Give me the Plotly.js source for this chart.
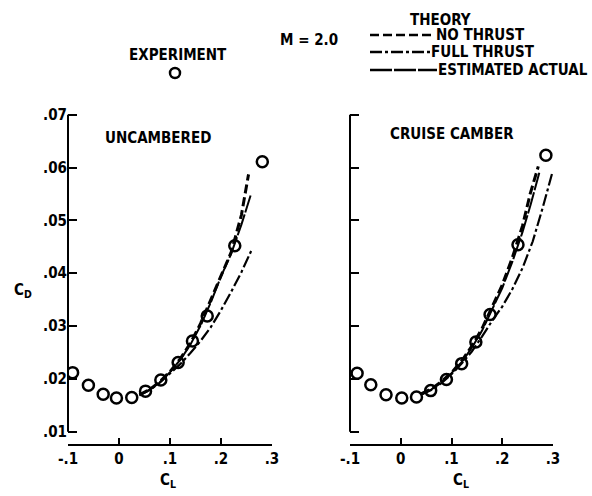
<!DOCTYPE html>
<html>
<head>
<meta charset="utf-8">
<script src="https://cdn.plot.ly/plotly-3.0.1.min.js"></script>
<style>html,body{margin:0;padding:0;background:#fff;}#chart{width:592px;height:496px;}</style>
</head>
<body>
<div id="chart"></div>
<script>
// ---- Data ----
const xTickVals = [-0.1, 0, 0.1, 0.2, 0.3];
const xTickText = ["-.1", "0", ".1", ".2", ".3"];
const yTickVals = [0.01, 0.02, 0.03, 0.04, 0.05, 0.06, 0.07];
const yTickText = [".01", ".02", ".03", ".04", ".05", ".06", ".07"];

// Uncambered - experiment
const uncamberedCL = [-0.091, -0.060, -0.031, -0.005, 0.025, 0.052, 0.082, 0.116, 0.144, 0.173, 0.227, 0.281];
const uncamberedCD = [0.0212, 0.0188, 0.0171, 0.0164, 0.0165, 0.0177, 0.0198, 0.0231, 0.0272, 0.0319, 0.0452, 0.0611];
// Uncambered - theory
const uncNoThrustCL = [0.04, 0.06, 0.08, 0.10, 0.12, 0.14, 0.16, 0.18, 0.20, 0.22, 0.24, 0.254];
const uncNoThrustCD = [0.0170, 0.0180, 0.0195, 0.0214, 0.0238, 0.0268, 0.0305, 0.0350, 0.0398, 0.0440, 0.0510, 0.0587];
const uncActualCL = [0.04, 0.06, 0.08, 0.10, 0.12, 0.14, 0.16, 0.18, 0.20, 0.22, 0.24, 0.258];
const uncActualCD = [0.0170, 0.0180, 0.0194, 0.0213, 0.0236, 0.0265, 0.0301, 0.0345, 0.0394, 0.0437, 0.0492, 0.0547];
const uncFullThrustCL = [0.04, 0.06, 0.08, 0.10, 0.12, 0.14, 0.16, 0.18, 0.20, 0.22, 0.24, 0.26];
const uncFullThrustCD = [0.0169, 0.0179, 0.0193, 0.0210, 0.0228, 0.0249, 0.0272, 0.0298, 0.0330, 0.0365, 0.0402, 0.0444];

// Cruise camber - experiment
const cruiseCL = [-0.086, -0.059, -0.029, 0.002, 0.031, 0.059, 0.090, 0.120, 0.148, 0.176, 0.231, 0.286];
const cruiseCD = [0.0211, 0.0189, 0.0170, 0.0164, 0.0166, 0.0178, 0.0199, 0.0229, 0.0270, 0.0322, 0.0454, 0.0623];
// Cruise camber - theory
const crNoThrustCL = [0.04, 0.06, 0.08, 0.10, 0.12, 0.14, 0.16, 0.18, 0.20, 0.22, 0.24, 0.255, 0.271];
const crNoThrustCD = [0.0172, 0.0181, 0.0195, 0.0212, 0.0234, 0.0262, 0.0295, 0.0335, 0.0378, 0.0430, 0.0490, 0.0550, 0.0602];
const crActualCL = [0.04, 0.06, 0.08, 0.10, 0.12, 0.14, 0.16, 0.18, 0.20, 0.22, 0.24, 0.256, 0.273];
const crActualCD = [0.0171, 0.0180, 0.0194, 0.0211, 0.0232, 0.0259, 0.0291, 0.0330, 0.0372, 0.0422, 0.0478, 0.0530, 0.0590];
const crFullThrustCL = [0.04, 0.06, 0.08, 0.10, 0.12, 0.14, 0.16, 0.18, 0.20, 0.22, 0.24, 0.26, 0.28, 0.298];
const crFullThrustCD = [0.0170, 0.0179, 0.0192, 0.0209, 0.0229, 0.0252, 0.0280, 0.0310, 0.0337, 0.0370, 0.0410, 0.0460, 0.0525, 0.0588];

// ---- Styling ----
const FONT = "DejaVu Sans Condensed, Liberation Sans Narrow, DejaVu Sans, sans-serif";
const font = (s) => ({family: FONT, size: s, color: "#000", weight: "bold"});
const W = 592, H = 496;
const px = (x) => x / W;
const py = (y) => 1 - y / H;

const DASH_NO = "9px,4px";
const DASH_FULL = "12px,3px,3px,3px";
const DASH_ACT = "22px,2px";

function curve(x, y, xa, ya, dash, w) {
  return {x: x, y: y, xaxis: xa, yaxis: ya, type: "scatter", mode: "lines",
          line: {color: "#000", width: w, dash: dash}, hoverinfo: "skip"};
}
function pts(x, y, xa, ya) {
  return {x: x, y: y, xaxis: xa, yaxis: ya, type: "scatter", mode: "markers",
          marker: {symbol: "circle-open", size: 11, color: "#000", line: {width: 2.5, color: "#000"}}, hoverinfo: "skip"};
}

const traces = [
  curve(uncNoThrustCL, uncNoThrustCD, "x", "y", DASH_NO, 3),
  curve(uncActualCL, uncActualCD, "x", "y", DASH_ACT, 2),
  curve(uncFullThrustCL, uncFullThrustCD, "x", "y", DASH_FULL, 2.2),
  pts(uncamberedCL, uncamberedCD, "x", "y"),
  curve(crNoThrustCL, crNoThrustCD, "x2", "y2", DASH_NO, 3),
  curve(crActualCL, crActualCD, "x2", "y2", DASH_ACT, 2),
  curve(crFullThrustCL, crFullThrustCD, "x2", "y2", DASH_FULL, 2.2),
  pts(cruiseCL, cruiseCD, "x2", "y2")
];

const yDomain = [py(444), py(112)];
const yRange = [0.0077, 0.0705];

function xAxis(domain, anchor) {
  return {domain: domain, anchor: anchor, range: [xTickVals[0], xTickVals[xTickVals.length - 1]],
          showline: true, linecolor: "#000", linewidth: 2, ticks: "inside", ticklen: 6, tickwidth: 2,
          tickcolor: "#000", tickvals: xTickVals, ticktext: xTickText, tickfont: font(15),
          showgrid: false, zeroline: false, fixedrange: true};
}
function yAxis(anchor, labels) {
  return {domain: yDomain, anchor: anchor, range: yRange, showline: false,
          ticks: "inside", ticklen: 9, tickwidth: 2, tickcolor: "#000",
          tickvals: yTickVals, ticktext: yTickText, showticklabels: labels, tickfont: font(15),
          showgrid: false, zeroline: false, fixedrange: true};
}

const yLo = yTickVals[0], yHi = yTickVals[yTickVals.length - 1];
const shapes = [
  // y-axis spines (only from .01 to .07, as in the reference)
  {type: "line", xref: "x domain", yref: "y", x0: 0, x1: 0, y0: yLo, y1: yHi, line: {color: "#000", width: 2}},
  {type: "line", xref: "x2 domain", yref: "y2", x0: 0, x1: 0, y0: yLo, y1: yHi, line: {color: "#000", width: 2}},
  // legend samples
  {type: "line", xref: "paper", yref: "paper", x0: px(370), x1: px(435), y0: py(35), y1: py(35), line: {color: "#000", width: 2.5, dash: DASH_NO}},
  {type: "line", xref: "paper", yref: "paper", x0: px(370), x1: px(430), y0: py(52), y1: py(52), line: {color: "#000", width: 2.5, dash: DASH_FULL}},
  {type: "line", xref: "paper", yref: "paper", x0: px(370), x1: px(437), y0: py(70), y1: py(70), line: {color: "#000", width: 2.5, dash: DASH_ACT}},
  {type: "circle", xref: "paper", yref: "paper", x0: px(170), x1: px(180), y0: py(78), y1: py(68), line: {color: "#000", width: 2.5}}
];

function ann(text, x, y, xanchor, size) {
  return {text: text, x: px(x), y: py(y), xref: "paper", yref: "paper", xanchor: xanchor, yanchor: "middle",
          showarrow: false, font: font(size || 15), borderpad: 0};
}

const annotations = [
  ann("EXPERIMENT", 177.5, 55, "center"),
  ann("M = 2.0", 309, 40, "center"),
  ann("THEORY", 440, 20, "center"),
  ann("NO THRUST", 435, 35, "left"),
  ann("FULL THRUST", 430, 52, "left"),
  ann("ESTIMATED ACTUAL", 437, 70, "left"),
  ann("UNCAMBERED", 158, 138, "center"),
  ann("CRUISE CAMBER", 452, 134, "center"),
  ann("C<sub>D</sub>", 23, 290, "center"),
  ann("C<sub>L</sub>", 168, 480, "center"),
  ann("C<sub>L</sub>", 461, 480, "center")
];

const layout = {
  width: W, height: H,
  margin: {l: 0, r: 0, t: 0, b: 0, pad: 0},
  paper_bgcolor: "#fff", plot_bgcolor: "#fff",
  showlegend: false,
  font: font(15),
  xaxis: xAxis([px(68), px(272)], "y"),
  yaxis: yAxis("x", true),
  xaxis2: xAxis([px(350), px(553)], "y2"),
  yaxis2: yAxis("x2", false),
  shapes: shapes,
  annotations: annotations
};

Plotly.newPlot("chart", traces, layout, {staticPlot: true, displayModeBar: false});
</script>
</body>
</html>
